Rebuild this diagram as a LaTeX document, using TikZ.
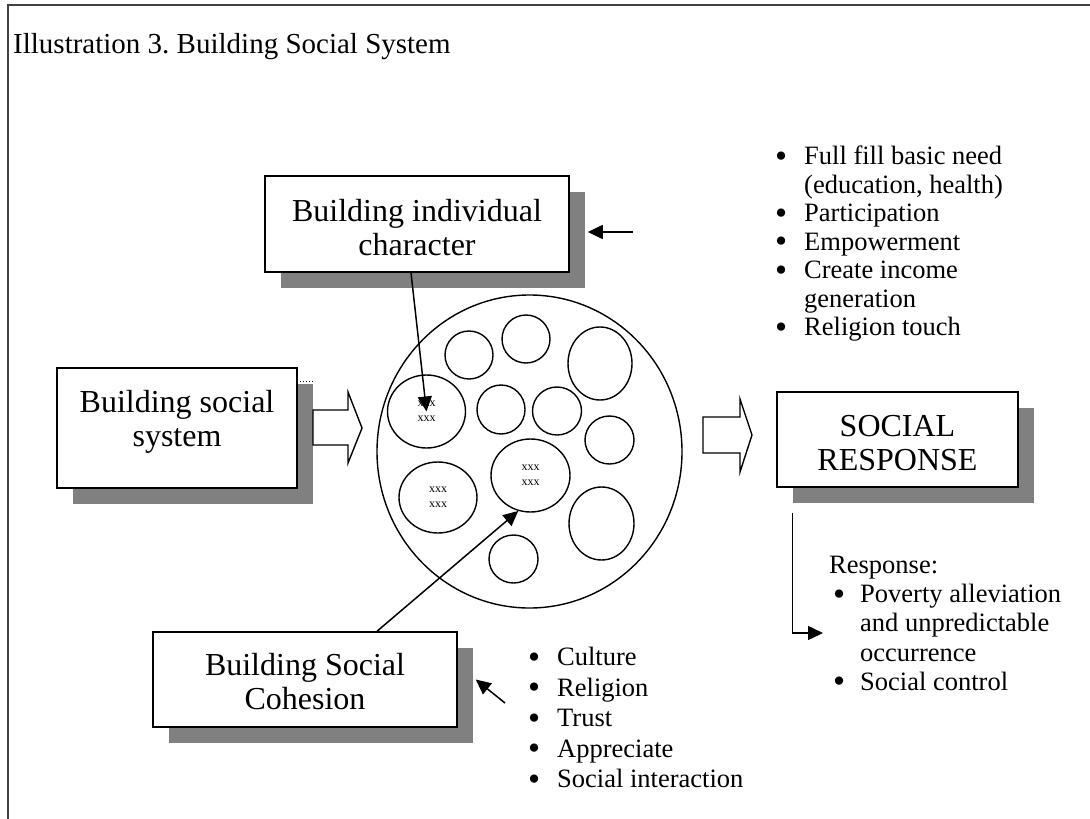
\documentclass[tikz,border=0pt]{standalone}
\usepackage{fontspec}
\setmainfont{Liberation Serif}
\usepackage{graphicx}
\usetikzlibrary{arrows.meta,positioning,calc,shapes.geometric,shadows}

\tikzset{
  box/.style={draw, line width=1.5pt, fill=white, inner sep=0pt,
    drop shadow={shadow xshift=16pt, shadow yshift=-16pt, opacity=1, fill=black!50}},
  boxtext/.style={align=center, inner sep=0pt, font=\fontsize{32}{34}\selectfont},
  cell/.style={draw, ellipse, line width=1.4pt, inner sep=0pt, align=center,
    font=\fontsize{12}{15}\selectfont},
  arr/.style={line width=1.5pt, -{Triangle[length=15pt,width=14pt]}},
  blockarr/.style={draw, line width=1.4pt, fill=white},
  list/.style={align=left, inner sep=0pt, anchor=north west,
    font=\fontsize{26.5}{28.5}\selectfont}
}
\newcommand{\bul}[2][29pt]{\makebox[#1][l]{\smash{\raisebox{-2.6pt}{\scalebox{1.3}{\textbullet}}}}#2}
\newcommand{\cont}[2][29pt]{\hspace*{#1}#2}

\begin{document}
\begin{tikzpicture}[x=1pt,y=-1pt]
    \useasboundingbox (0,0) rectangle (1090,819);

    % Frame and title
    \draw[line width=2pt, black!75] (1090,5) -- (8,5) -- (8,819);
    \node[anchor=base west, inner sep=0pt, font=\fontsize{29}{29}\selectfont] (title) at (13,53)
        {Illustration 3.\ Building Social System};

    % Boxes
    \node[box, minimum width=304pt, minimum height=96pt] (indiv) at (417,224) {};
    \node[boxtext] (indivtext) at (417,228) {Building individual\\character};
    \node[box, minimum width=240pt, minimum height=120pt] (sys) at (177,428) {};
    \node[boxtext] (systext) at (177,422) {Building social\\system};
    \node[box, minimum width=241pt, minimum height=95pt] (resp) at (897.5,439.5) {};
    \node[boxtext] (resptext) at (897.5,443) {SOCIAL\\RESPONSE};
    \node[box, minimum width=304pt, minimum height=95pt] (cohes) at (305,679.5) {};
    \node[boxtext] (cohestext) at (305,682) {Building Social\\Cohesion};
    \draw[dotted, line width=1pt] (297,381) -- (314,381);

    % Block arrows
    \draw[blockarr] (313,410) -- (348,410) -- (348,392) -- (362,428) -- (348,463) -- (348,445) -- (313,445) -- cycle;
    \draw[blockarr] (703,417) -- (740,417) -- (740,399) -- (752,435) -- (740,472) -- (740,453) -- (703,453) -- cycle;

    % Society and its members
    \node[ellipse, draw, line width=1.4pt, inner sep=0pt, minimum width=305pt, minimum height=313pt] (pool) at (529.5,451.5) {};
    \foreach \n/\x/\y/\w/\h in {c1/469/355/48/48, c2/526/339/48/48, c3/600/363.5/64/73,
        c5/501/409.5/48/49, c6/557/411/49/48, c7/609.5/440/49/48,
        c10/513.5/559/49/48, c11/601.5/523.5/65/73}
        \node[cell, minimum width=\w pt, minimum height=\h pt] (\n) at (\x,\y) {};
    \node[cell, minimum width=78pt, minimum height=73pt] (c4) at (426.5,411.5) {xxx\\xxx};
    \node[cell, minimum width=79pt, minimum height=73pt] (c8) at (530.5,475.5) {xxx\\xxx};
    \node[cell, minimum width=78pt, minimum height=71pt] (c9) at (438,497.5) {xxx\\xxx};

    % Lists
    \node[list] (needs) at (775,146) {\bul{Full fill basic need}\\ \cont{(education, health)}\\
        \bul{Participation}\\ \bul{Empowerment}\\ \bul{Create income}\\ \cont{generation}\\
        \bul{Religion touch}};
    \node[list, font=\fontsize{26.5}{30.5}\selectfont] (ties) at (528,647) {\bul{Culture}\\
        \bul{Religion}\\ \bul{Trust}\\ \bul{Appreciate}\\ \bul{Social interaction}};
    \node[list, font=\fontsize{26.5}{29.2}\selectfont] (outcome) at (829,556) {Response:\\
        \hspace*{4pt}\bul[27pt]{Poverty alleviation}\\ \cont[31pt]{and unpredictable}\\
        \cont[31pt]{occurrence}\\ \hspace*{4pt}\bul[27pt]{Social control}};

    % Arrows
    \coordinate (needsend) at (633,232);
    \coordinate (tiesend) at (505,703);
    \draw[arr] ([xshift=-6pt]indiv.south) -- (c4.center);
    \draw[arr] ([xshift=72pt]cohes.north) -- (c8.-109);
    \draw[arr] (needsend) -- ([shift={(18,8)}]indiv.east);
    \draw[arr] (tiesend) -- ([shift={(18,0)}]cohes.east);
    \draw[arr] ([shift={(16,25)}]resp.south west) |- (823,633);
\end{tikzpicture}
\end{document}
